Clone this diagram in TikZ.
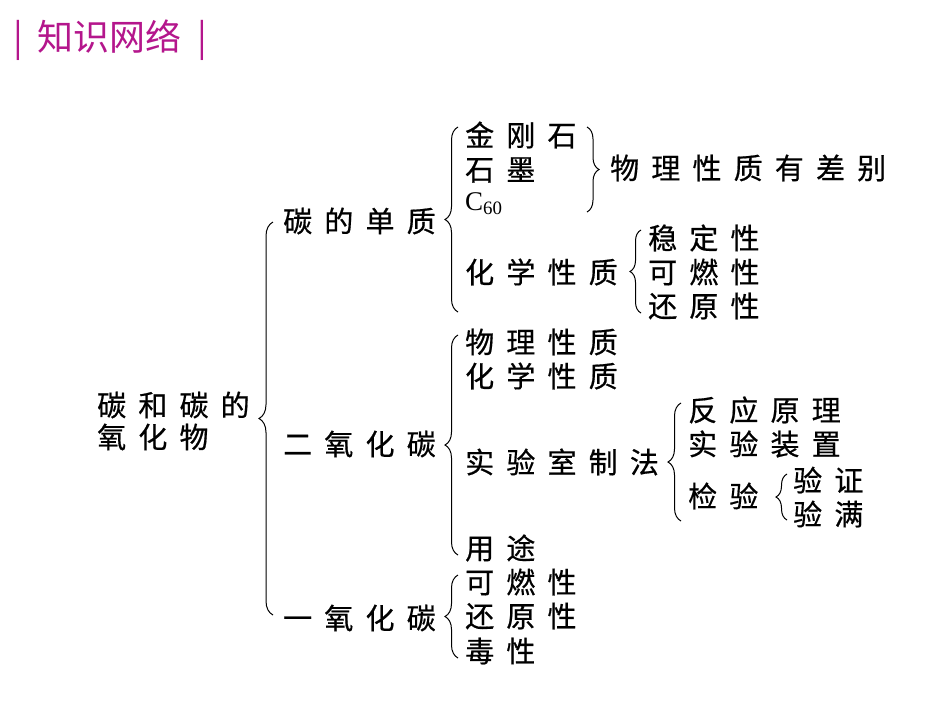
\documentclass[tikz,border=0pt]{standalone}
\usepackage{fontspec}
\setmainfont{Noto Sans CJK SC}
\newfontfamily\spaced[LetterSpace=42,FakeBold=0.6]{Noto Sans CJK SC}
\newfontfamily\latin{Liberation Serif}
\usetikzlibrary{decorations.pathreplacing}
\definecolor{titlemag}{RGB}{180,22,140}
\tikzset{
  item/.style={anchor=west,inner sep=0pt,font=\spaced\fontsize{29}{32}\selectfont},
  bracel/.style={decorate,decoration={brace,amplitude=#1},line width=1pt},
}
\begin{document}
\begin{tikzpicture}[x=1pt,y=-1pt]
  \useasboundingbox (0,0) rectangle (950,713);
  \node[anchor=west,inner sep=0pt,text=titlemag,font=\fontsize{36}{40}\selectfont] (title) at (13,40) {|\hspace{15pt}知识网络\hspace{16pt}|};
  \node[item] (root1) at (97,405) {碳和碳的};
  \node[item] (root2) at (97,437) {氧化物};
  \node[item] (c) at (283,221) {碳的单质};
  \node[item] (co2) at (283,444) {二氧化碳};
  \node[item] (co) at (283,618) {一氧化碳};
  \foreach \t/\y [count=\i] in {金刚石/135,石墨/170,{{\latin\fontsize{27}{30}\selectfont C\textsubscript{60}}}/204,化学性质/272}
    \node[item] (c\i) at (465,\y) {\t};
  \node[item] (diff) at (610,168) {物理性质有差别};
  \foreach \t/\y [count=\i] in {稳定性/238,可燃性/272,还原性/306}
    \node[item] (cc\i) at (648,\y) {\t};
  \foreach \t/\y [count=\i] in {物理性质/342,化学性质/376,实验室制法/462,用途/548}
    \node[item] (d\i) at (465,\y) {\t};
  \foreach \t/\y [count=\i] in {反应原理/410,实验装置/444,检验/496}
    \node[item] (lab\i) at (688,\y) {\t};
  \foreach \t/\y [count=\i] in {验证/480,验满/514}
    \node[item] (test\i) at (793,\y) {\t};
  \foreach \t/\y [count=\i] in {可燃性/582,还原性/616,毒性/651}
    \node[item] (e\i) at (465,\y) {\t};
  \foreach \x/\a/\b/\amp [count=\i] in {273/615/222/14,458/312/127/13,587/127/212/12,641/313/230/11,
      458/555/335/13,681/521/403/13,787/520/474/11,458/658/575/13} {
    \coordinate (lo\i) at (\x,\a);
    \coordinate (hi\i) at (\x,\b);
    \draw[bracel=\amp pt] (lo\i) -- (hi\i);
  }
\end{tikzpicture}
\end{document}
